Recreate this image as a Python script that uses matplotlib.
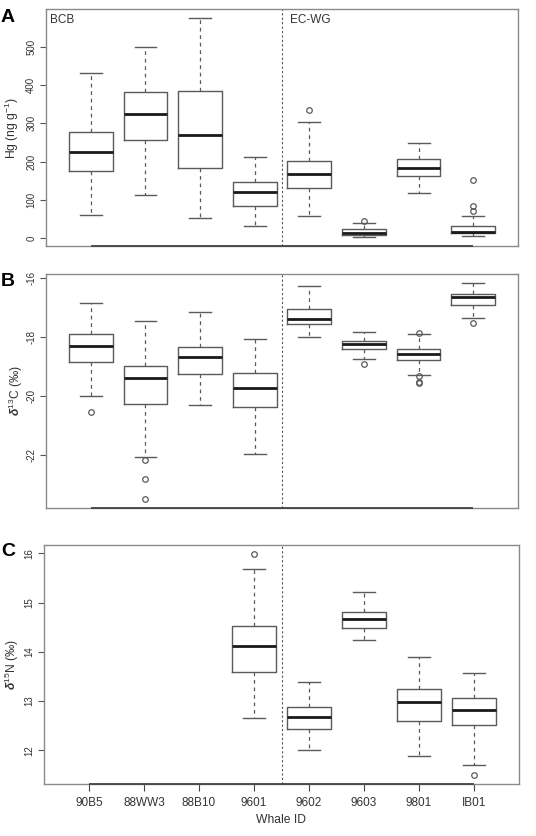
import matplotlib
matplotlib.use("Agg")
import matplotlib.pyplot as plt

plt.rcParams['font.family'] = ['Liberation Sans', 'DejaVu Sans']
plt.rcParams['mathtext.fontset'] = 'custom'
plt.rcParams['mathtext.rm'] = 'Liberation Sans'
plt.rcParams['mathtext.it'] = 'Liberation Sans:italic'
plt.rcParams['mathtext.bf'] = 'Liberation Sans:bold:italic'

# ---------------- data ----------------
whale_ids = ["90B5", "88WW3", "88B10", "9601", "9602", "9603", "9801", "IB01"]
regions = ["BCB", "EC-WG"]

hg_pos = [1, 2, 3, 4, 5, 6, 7, 8]
hg_whislo = [61, 112, 53, 32, 58, 3, 119, 5]
hg_q1 = [175, 257, 184, 85, 130, 10, 163, 13]
hg_med = [224, 323, 270, 120, 168, 14, 184, 17]
hg_q3 = [278, 382, 385, 147, 201, 24, 206, 32]
hg_whishi = [430, 500, 575, 212, 304, 41, 248, 59]
hg_fliers = [[], [], [], [], [335], [46], [], [152, 84, 71]]
hg_ticks = [0, 100, 200, 300, 400, 500]

c_pos = [1, 2, 3, 4, 5, 6, 7, 8]
c_whislo = [-20.00, -22.07, -20.30, -21.94, -17.99, -18.75, -19.27, -17.34]
c_q1 = [-18.85, -20.25, -19.24, -20.37, -17.55, -18.42, -18.76, -16.92]
c_med = [-18.30, -19.39, -18.66, -19.74, -17.39, -18.23, -18.57, -16.63]
c_q3 = [-17.89, -18.98, -18.32, -19.22, -17.04, -18.14, -18.42, -16.56]
c_whishi = [-16.85, -17.46, -17.16, -18.07, -16.26, -17.84, -17.91, -16.17]
c_fliers = [[-20.55], [-22.17, -22.80, -23.48], [], [], [], [-18.91],
            [-17.87, -19.33, -19.51, -19.56], [-17.52]]
c_ticks = [-22, -20, -18, -16]

n_pos = [4, 5, 6, 7, 8]
n_whislo = [12.65, 12.00, 14.25, 11.89, 11.70]
n_q1 = [13.59, 12.43, 14.49, 12.60, 12.52]
n_med = [14.11, 12.68, 14.66, 12.99, 12.81]
n_q3 = [14.53, 12.89, 14.81, 13.24, 13.06]
n_whishi = [15.68, 13.39, 15.21, 13.90, 13.58]
n_fliers = [[15.99], [], [], [], [11.49]]
n_ticks = [12, 13, 14, 15, 16]

split_at = 4.5

# ---------------- style ----------------
FRAME = '#8a8a8a'
BOXC = '#5a5a5a'
TXT = '#333333'

fig = plt.figure(figsize=(5.36, 8.36), dpi=100)

panels = [
    dict(rect=[46/536, 1-246/836, 472/536, 237/836], pos=hg_pos, lo=hg_whislo, q1=hg_q1,
         med=hg_med, q3=hg_q3, hi=hg_whishi, fl=hg_fliers, ticks=hg_ticks,
         ylabel=r"Hg (ng g$^{\mathrm{-1}}$)", letter="A", ylab_x=12, letter_y=18, xlab=False),
    dict(rect=[46/536, 1-507.7/836, 472/536, 233.4/836], pos=c_pos, lo=c_whislo, q1=c_q1,
         med=c_med, q3=c_q3, hi=c_whishi, fl=c_fliers, ticks=c_ticks,
         ylabel=r"$\mathbf{\delta}^{\mathrm{13}}$C (‰)", letter="B", ylab_x=16, letter_y=281, xlab=False),
    dict(rect=[44/536, 1-784.3/836, 475/536, 239.3/836], pos=n_pos, lo=n_whislo, q1=n_q1,
         med=n_med, q3=n_q3, hi=n_whishi, fl=n_fliers, ticks=n_ticks,
         ylabel=r"$\mathbf{\delta}^{\mathrm{15}}$N (‰)", letter="C", ylab_x=12, letter_y=551, xlab=True),
]

for p in panels:
    ax = fig.add_axes(p['rect'])
    stats = []
    allv = []
    for i in range(len(p['pos'])):
        stats.append(dict(med=p['med'][i], q1=p['q1'][i], q3=p['q3'][i],
                          whislo=p['lo'][i], whishi=p['hi'][i], fliers=p['fl'][i]))
        allv += [p['lo'][i], p['hi'][i]] + list(p['fl'][i])
    ax.bxp(stats, positions=p['pos'], widths=0.8, showfliers=True, patch_artist=False,
           boxprops=dict(color=BOXC, linewidth=1.0),
           medianprops=dict(color='#1a1a1a', linewidth=2.0, solid_capstyle='butt'),
           whiskerprops=dict(color=BOXC, linewidth=0.9, linestyle=(0, (3, 3))),
           capprops=dict(color=BOXC, linewidth=1.0),
           capwidths=0.4,
           flierprops=dict(marker='o', markerfacecolor='none', markeredgecolor=BOXC,
                           markersize=4, markeredgewidth=0.9))
    lo, hi = min(allv), max(allv)
    pad = 0.04 * (hi - lo)
    ax.set_ylim(lo - pad, hi + pad)
    ax.set_xlim(0.5 - 0.32, 8.5 + 0.32)
    ax.axvline(split_at, color='#555555', linewidth=0.8, linestyle=(0, (2, 2)))

    for s in ax.spines.values():
        s.set_color(FRAME)
        s.set_linewidth(1.0)
    # axis line from first to last group
    ax.hlines(lo - pad, 1, 8, color='#444444', linewidth=1.3, clip_on=False, zorder=5)

    ax.set_yticks(p['ticks'])
    ax.set_yticklabels([str(t) for t in p['ticks']], rotation=90, va='center',
                       fontsize=7, color=TXT)
    ax.tick_params(axis='y', length=4, width=0.8, color='#555555', pad=3)

    if p['xlab']:
        ax.set_xticks(range(1, len(whale_ids) + 1))
        ax.set_xticklabels(whale_ids, fontsize=8.5, color=TXT)
        ax.tick_params(axis='x', length=5, width=0.8, color='#444444', pad=4)
        ax.set_xlabel("Whale ID", fontsize=8.7, color=TXT, labelpad=4)
    else:
        ax.set_xticks([])

    # panel y label
    fig.text(p['ylab_x'] / 536, p['rect'][1] + p['rect'][3] / 2, p['ylabel'],
             rotation=90, ha='center', va='center', fontsize=8.7, color=TXT)
    fig.text(1 / 536, 1 - p['letter_y'] / 836, p['letter'], fontsize=14,
             fontweight='bold', ha='left', va='center', color='black')

    if p['letter'] == 'A':
        ax.text(0.009, 0.955, regions[0], transform=ax.transAxes, fontsize=8.5,
                color=TXT, ha='left', va='center')
        ax.text(0.516, 0.955, regions[1], transform=ax.transAxes, fontsize=8.5,
                color=TXT, ha='left', va='center')

fig.savefig("out.png", dpi=100)
